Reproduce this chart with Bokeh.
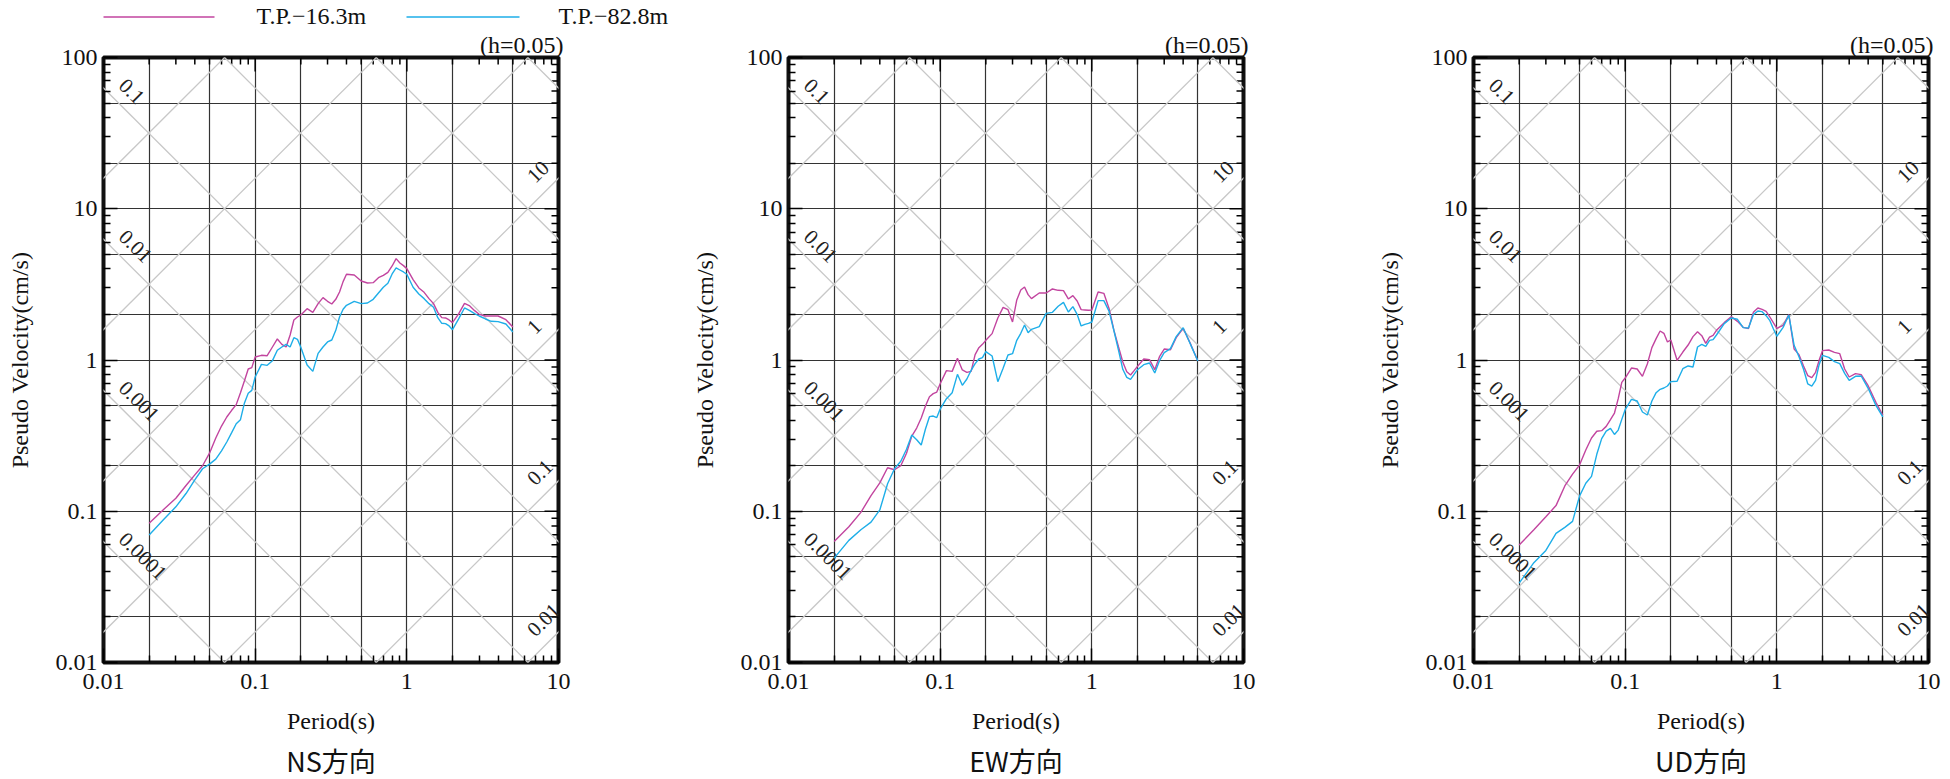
import math
from bokeh.plotting import figure
from bokeh.models import Range1d, FixedTicker, Title
from bokeh.layouts import row, column
from bokeh.embed import file_html
from bokeh.resources import INLINE
from bokeh.core.properties import value

# ---------------- data ----------------
period = [0.02, 0.025, 0.03, 0.035, 0.04, 0.045, 0.05, 0.055, 0.06, 0.065,
          0.07, 0.075, 0.08, 0.085, 0.09, 0.095, 0.1, 0.11, 0.12, 0.13,
          0.14, 0.15, 0.16, 0.17, 0.18, 0.19, 0.2, 0.22, 0.24, 0.26,
          0.28, 0.3, 0.32, 0.34, 0.36, 0.38, 0.4, 0.45, 0.5, 0.55,
          0.6, 0.65, 0.7, 0.75, 0.8, 0.85, 0.9, 0.95, 1.0, 1.1,
          1.2, 1.3, 1.4, 1.5, 1.6, 1.7, 1.8, 1.9, 2.0, 2.2,
          2.4, 2.6, 2.8, 3.0, 3.3, 3.6, 4.0, 4.5, 5.0]

ns_upper = [0.0832, 0.103, 0.122, 0.148, 0.174, 0.200, 0.242, 0.305, 0.366, 0.420,
            0.465, 0.507, 0.608, 0.730, 0.872, 0.890, 1.047, 1.074, 1.068, 1.219,
            1.377, 1.269, 1.219, 1.463, 1.839, 1.924, 1.984, 2.185, 2.066, 2.358,
            2.584, 2.443, 2.345, 2.519, 2.816, 3.298, 3.687, 3.65, 3.331, 3.23,
            3.247, 3.504, 3.631, 3.80, 4.184, 4.68, 4.38, 4.207, 4.018, 3.40,
            2.995, 2.802, 2.545, 2.358, 2.066, 1.905, 1.896, 1.839, 1.766, 2.025,
            2.37, 2.276, 2.12, 2.005, 1.954, 1.954, 1.954, 1.848, 1.653]
ns_lower = [0.0696, 0.0884, 0.107, 0.131, 0.161, 0.191, 0.205, 0.221, 0.251, 0.287,
            0.331, 0.379, 0.403, 0.520, 0.602, 0.630, 0.772, 0.936, 0.922, 0.990,
            1.159, 1.219, 1.269, 1.219, 1.405, 1.370, 1.213, 0.927, 0.841, 1.107,
            1.219, 1.316, 1.356, 1.571, 1.924, 2.163, 2.299, 2.443, 2.358, 2.382,
            2.519, 2.774, 3.024, 3.214, 3.705, 4.059, 3.936, 3.819, 3.687, 3.024,
            2.733, 2.545, 2.358, 2.230, 1.905, 1.748, 1.739, 1.679, 1.587, 1.877,
            2.208, 2.12, 2.025, 1.954, 1.867, 1.802, 1.793, 1.730, 1.532]
ew_upper = [0.0632, 0.079, 0.0983, 0.127, 0.154, 0.194, 0.188, 0.200, 0.242, 0.314,
            0.355, 0.414, 0.496, 0.572, 0.599, 0.614, 0.697, 0.850, 0.841, 1.026,
            0.859, 0.829, 0.841, 1.085, 1.207, 1.269, 1.349, 1.494, 1.896, 2.230,
            2.152, 1.784, 2.494, 2.904, 3.040, 2.704, 2.545, 2.774, 2.774, 2.949,
            2.889, 2.874, 2.532, 2.664, 2.455, 2.152, 2.141, 2.131, 2.141, 2.816,
            2.760, 2.185, 1.563, 1.219, 0.970, 0.837, 0.796, 0.850, 0.908, 1.015,
            1.005, 0.863, 1.057, 1.182, 1.170, 1.405, 1.620, 1.263, 0.985]
ew_lower = [0.049, 0.0642, 0.0755, 0.0848, 0.102, 0.152, 0.191, 0.214, 0.257, 0.319,
            0.297, 0.274, 0.350, 0.422, 0.426, 0.416, 0.474, 0.555, 0.608, 0.804,
            0.680, 0.749, 0.855, 0.946, 1.015, 1.036, 1.135, 1.063, 0.719, 0.881,
            1.079, 1.101, 1.349, 1.501, 1.704, 1.516, 1.595, 1.662, 2.035, 2.066,
            2.265, 2.406, 2.077, 2.253, 2.005, 1.679, 1.722, 1.748, 1.784, 2.469,
            2.469, 2.098, 1.555, 1.159, 0.868, 0.768, 0.745, 0.804, 0.863, 0.931,
            0.955, 0.820, 0.995, 1.118, 1.189, 1.427, 1.636, 1.250, 0.985]
ud_upper = [0.0598, 0.0755, 0.092, 0.109, 0.147, 0.176, 0.202, 0.254, 0.305, 0.338,
            0.341, 0.364, 0.403, 0.446, 0.555, 0.712, 0.760, 0.885, 0.872, 0.780,
            0.941, 1.207, 1.384, 1.555, 1.501, 1.316, 1.356, 0.995, 1.129, 1.256,
            1.427, 1.539, 1.449, 1.289, 1.419, 1.456, 1.571, 1.766, 1.934, 1.802,
            1.644, 1.612, 2.066, 2.208, 2.163, 2.098, 1.924, 1.757, 1.620, 1.696,
            1.994, 1.182, 1.085, 0.913, 0.788, 0.764, 0.829, 0.995, 1.153, 1.164,
            1.124, 1.101, 0.872, 0.772, 0.812, 0.800, 0.676, 0.525, 0.431]
ud_lower = [0.0335, 0.0457, 0.0551, 0.0714, 0.0782, 0.0857, 0.126, 0.153, 0.170, 0.238,
            0.302, 0.339, 0.353, 0.322, 0.344, 0.405, 0.469, 0.549, 0.536, 0.453,
            0.433, 0.536, 0.608, 0.640, 0.653, 0.673, 0.719, 0.723, 0.876, 0.913,
            0.899, 1.219, 1.269, 1.231, 1.349, 1.363, 1.463, 1.739, 1.896, 1.858,
            1.636, 1.628, 1.994, 2.109, 2.088, 1.964, 1.820, 1.603, 1.434, 1.644,
            1.984, 1.250, 1.052, 0.868, 0.694, 0.673, 0.734, 0.931, 1.074, 1.041,
            0.975, 0.946, 0.816, 0.734, 0.780, 0.784, 0.650, 0.501, 0.420]

series_labels = ["T.P.\u221216.3m", "T.P.\u221282.8m"]
panel_titles = ["NS方向", "EW方向", "UD方向"]
damping_text = "(h=0.05)"
x_label = "Period(s)"
y_label = "Pseudo Velocity(cm/s)"

x_ticks = [0.01, 0.1, 1, 10]
x_tick_labels = ["0.01", "0.1", "1", "10"]
y_ticks = [0.01, 0.1, 1, 10, 100]
y_tick_labels = ["0.01", "0.1", "1", "10", "100"]
grid_x = [0.02, 0.05, 0.1, 0.2, 0.5, 1, 2, 5]
grid_y = [0.02, 0.05, 0.1, 0.2, 0.5, 1, 2, 5, 10, 20, 50]

disp_lines = [1e-4, 1e-3, 1e-2, 1e-1, 1, 10, 100]          # cm
disp_label_values = [0.1, 0.01, 0.001, 0.0001]
disp_label_text = ["0.1", "0.01", "0.001", "0.0001"]
acc_lines = [0.01, 0.1, 1, 10, 100, 1000, 10000]           # cm/s2
acc_label_values = [10, 1, 0.1, 0.01]
acc_label_text = ["10", "1", "0.1", "0.01"]

# ---------------- style ----------------
PINK = "#c2459f"
BLUE = "#1eaee8"
SERIF = "Liberation Serif"
CJK = "Noto Sans CJK JP"
TXT = "#111111"
FRAME_W, FRAME_H = 455, 605
HEADER_H = 29
TOP_BORDER = 26
borders = [(103, 130), (95, 130), (96, 31)]   # (left, right) per panel

minor_x = [m * 10.0 ** k for k in range(-2, 1) for m in range(2, 10)]
minor_y = [m * 10.0 ** k for k in range(-2, 2) for m in range(2, 10)]
TWO_PI = 2 * math.pi
PX_DEC_X = FRAME_W / 3.0
PX_DEC_Y = FRAME_H / 4.0


def style_axis(ax, ticks, labels, minor):
    ax.ticker = FixedTicker(ticks=ticks, minor_ticks=minor)
    ax.major_label_overrides = dict(zip(ticks, labels))
    ax.major_tick_in = 14
    ax.major_tick_out = 0
    ax.minor_tick_in = 7
    ax.minor_tick_out = 0
    ax.major_tick_line_color = "black"
    ax.minor_tick_line_color = "black"
    ax.major_tick_line_width = 1.5
    ax.minor_tick_line_width = 1.5
    ax.axis_line_color = None
    ax.major_label_text_font = SERIF
    ax.major_label_text_font_size = "24px"
    ax.major_label_text_color = TXT
    ax.axis_label_text_font = SERIF
    ax.axis_label_text_font_size = "24px"
    ax.axis_label_text_font_style = "normal"
    ax.axis_label_text_color = TXT


def make_panel(upper, lower, title, lb, rb):
    p = figure(x_axis_type="log", y_axis_type="log",
               x_range=Range1d(0.01, 10), y_range=Range1d(0.01, 100),
               frame_width=FRAME_W, frame_height=FRAME_H,
               min_border_left=lb, min_border_right=rb,
               min_border_top=TOP_BORDER, min_border_bottom=0,
               output_backend="svg", toolbar_location=None, title=None,
               x_axis_label=x_label, y_axis_label=y_label)
    p.background_fill_color = "white"
    p.border_fill_color = "white"
    p.outline_line_color = "#111111"
    p.outline_line_width = 4

    style_axis(p.xaxis[0], x_ticks, x_tick_labels, minor_x)
    style_axis(p.yaxis[0], y_ticks, y_tick_labels, minor_y)
    p.xaxis[0].major_label_standoff = 11
    p.xaxis[0].axis_label_standoff = 16
    p.yaxis[0].major_label_standoff = 6
    p.yaxis[0].axis_label_standoff = 20

    p.xgrid.ticker = FixedTicker(ticks=grid_x)
    p.ygrid.ticker = FixedTicker(ticks=grid_y)
    p.xgrid.grid_line_color = "#333333"
    p.ygrid.grid_line_color = "#333333"
    p.xgrid.grid_line_width = 1.2
    p.ygrid.grid_line_width = 1.2

    # inward ticks on the top and right edges (mirror of bottom/left axes)
    top_x = x_ticks + minor_x
    top_len = [14 if t in x_ticks else 7 for t in top_x]
    p.segment(x0=top_x, y0=[100] * len(top_x), x1=top_x,
              y1=[100 * 10 ** (-L / PX_DEC_Y) for L in top_len],
              line_color="black", line_width=1.5)
    right_y = y_ticks + minor_y
    right_len = [14 if t in y_ticks else 7 for t in right_y]
    p.segment(x0=[10] * len(right_y), y0=right_y,
              x1=[10 * 10 ** (-L / PX_DEC_X) for L in right_len], y1=right_y,
              line_color="black", line_width=1.5)

    # tripartite diagonals
    t0, t1 = 0.005, 20.0
    p.segment(x0=[t0] * len(disp_lines), y0=[TWO_PI * d / t0 for d in disp_lines],
              x1=[t1] * len(disp_lines), y1=[TWO_PI * d / t1 for d in disp_lines],
              line_color="#c8c8c8", line_width=1.3)
    p.segment(x0=[t0] * len(acc_lines), y0=[a * t0 / TWO_PI for a in acc_lines],
              x1=[t1] * len(acc_lines), y1=[a * t1 / TWO_PI for a in acc_lines],
              line_color="#c8c8c8", line_width=1.3)

    ta = 0.01335
    p.text(x=[ta] * len(disp_label_values),
           y=[TWO_PI * d / ta * 1.464 for d in disp_label_values],
           text=disp_label_text, angle=-math.pi / 4,
           text_font=value(SERIF), text_font_size=value("21px"),
           text_align="left", text_baseline="middle", text_color="#222222")
    tb = 6.54
    p.text(x=[tb] * len(acc_label_values),
           y=[a * tb / TWO_PI * 1.508 for a in acc_label_values],
           text=acc_label_text, angle=math.pi / 4,
           text_font=value(SERIF), text_font_size=value("21px"),
           text_align="left", text_baseline="middle", text_color="#222222")

    p.line(period, upper, line_color=PINK, line_width=1.4)
    p.line(period, lower, line_color=BLUE, line_width=1.4)

    p.add_layout(Title(text=damping_text, align="right", text_font=SERIF,
                       text_font_size="24px", text_font_style="normal",
                       text_color=TXT, standoff=0, offset=-5), "above")
    p.add_layout(Title(text=title, align="center", text_font=CJK,
                       text_font_size="27px", text_font_style="normal",
                       text_color=TXT, standoff=4), "below")
    return p


panels = []
panel_data = [(ns_upper, ns_lower), (ew_upper, ew_lower), (ud_upper, ud_lower)]
for i, (up, lo) in enumerate(panel_data):
    panels.append(make_panel(up, lo, panel_titles[i], borders[i][0], borders[i][1]))

# ---------------- header strip: legend ----------------
total_w = sum(l + FRAME_W + r for l, r in borders)
header = figure(width=total_w, height=HEADER_H,
                x_range=Range1d(0, total_w), y_range=Range1d(HEADER_H, 0),
                x_axis_location=None, y_axis_location=None,
                min_border=0, output_backend="svg", toolbar_location=None, title=None)
header.grid.visible = False
header.outline_line_color = None
header.background_fill_color = "white"
header.border_fill_color = "white"

leg_y = 15.5
header.segment(x0=[103, 406], y0=[leg_y + 1, leg_y + 1], x1=[214, 519], y1=[leg_y + 1, leg_y + 1],
               line_color=[PINK, BLUE], line_width=1.4)
header.text(x=[256, 558], y=[leg_y, leg_y], text=series_labels,
            text_font=value(SERIF), text_font_size=value("24px"),
            text_align="left", text_baseline="middle", text_color=TXT)

layout = column(header, row(*panels))
open("out.html", "w").write(file_html(layout, INLINE))
